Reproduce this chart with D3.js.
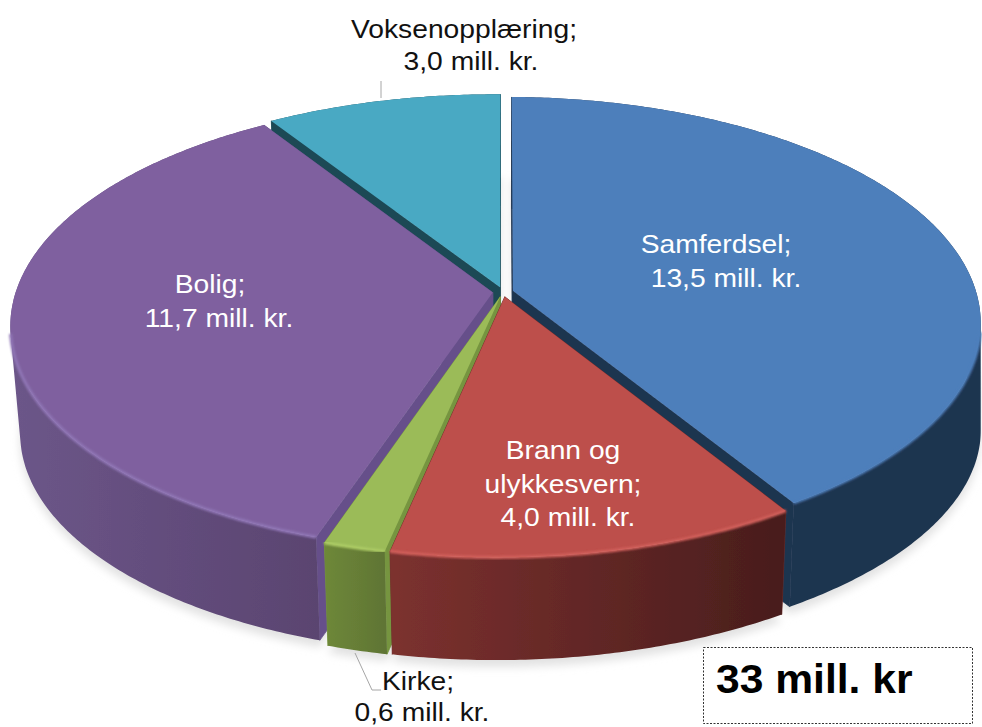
<!DOCTYPE html>
<html>
<head>
<meta charset="utf-8">
<script src="https://cdn.jsdelivr.net/npm/d3@7"></script>
<style>
  html, body { margin: 0; padding: 0; background: #fff; }
  svg { display: block; }
  text { font-family: "Liberation Sans", Arial, sans-serif; }
</style>
</head>
<body>
<div id="chart"></div>
<script>
const categories = ['Samferdsel', 'Brann og ulykkesvern', 'Kirke', 'Bolig', 'Voksenopplæring'];
const values = [13.5, 4.0, 0.6, 11.7, 3.0];
const totalLabel = '33 mill. kr';

const topColors = ['#4e7fbb', '#bd4f4b', '#9bbb59', '#7f619f', '#4aa9c3'];
const rimColors = ['#4e7fbb', '#d2605c', '#aecd66', '#9076b6', '#4aa9c3'];
const wallLeft = ['#1f3550', '#7c312f', '#6e8839', '#6c5689', '#1c4a55'];
const wallRight = ['#1f3550', '#481d1c', '#5f7434', '#5a4470', '#1c4a55'];
const sideColors = ['#1f3550', '#6f2c2a', '#76953f', '#66508a', '#1c4a55'];
// back to front, so each top face covers the walls of the slice behind it
const drawOrder = [4, 0, 3, 2, 1];

// text placement: [centre x, baseline y, text] per line, in category order
const labelLines = [
  [[716, 253, 'Samferdsel;'], [726, 287, null]],
  [[563, 459, 'Brann og'], [563, 493, 'ulykkesvern;'], [568, 526, null]],
  [[418, 690, 'Kirke;'], [422, 721, null]],
  [[210, 293, 'Bolig;'], [219, 327, null]],
  [[464, 38, 'Voksenopplæring;'], [471, 70, null]]
];
const labelFill = ['#fff', '#fff', '#111', '#fff', '#111'];

const width = 982, height = 727;
const cx = 503, cy = 292;
const rx = 470, ry = 221.8;
const tilt = 0.143;      // perspective: the back of the disc shrinks
const skew = 0.014;      // and the right side a little too
const explode = 0.022;   // slice offset as a share of the radius
const depth = 108;       // drop from top disc to bottom disc
const bottomScale = 0.98;

const fmt = v => d3.format('.1f')(v).replace('.', ',') + ' mill. kr.';

const svg = d3.select('#chart').append('svg')
  .attr('width', width)
  .attr('height', height)
  .attr('viewBox', `0 0 ${width} ${height}`);

const defs = svg.append('defs');
defs.append('filter').attr('id', 'shadow').attr('x', '-5%').attr('y', '-5%').attr('width', '110%').attr('height', '110%')
  .append('feGaussianBlur').attr('stdDeviation', 4);
defs.append('filter').attr('id', 'rim').attr('x', '-5%').attr('y', '-5%').attr('width', '110%').attr('height', '110%')
  .append('feGaussianBlur').attr('stdDeviation', 1.1);
defs.append('filter').attr('id', 'soft').attr('x', '-2%').attr('y', '-2%').attr('width', '104%').attr('height', '104%')
  .append('feGaussianBlur').attr('stdDeviation', 0.45);

categories.forEach((c, i) => {
  const g = defs.append('linearGradient').attr('id', `wall-${i}`);
  g.append('stop').attr('offset', '0%').attr('stop-color', wallLeft[i]);
  g.append('stop').attr('offset', '100%').attr('stop-color', wallRight[i]);
});

// disc coordinates (u right, v to the back) to screen
function project(u, v, lower) {
  const w = 1 + tilt * v + skew * u;
  const s = lower ? bottomScale : 1;
  // the bottom disc only pulls in on the left, its far right stays put
  const sx = !lower ? 1 : u < 0 ? bottomScale : 1 - 0.03 * (1 - Math.min(u, 1));
  return [
    cx + rx * sx * u / w,
    cy + (lower ? depth : 0) - ry * s * v / w
  ];
}

const pie = d3.pie().value(d => d).sort(null);
const slices = pie(values).map((d, i) => {
  const mid = (d.startAngle + d.endAngle) / 2;
  return {
    i,
    start: d.startAngle,
    end: d.endAngle,
    ox: explode * Math.sin(mid),
    oy: explode * Math.cos(mid)
  };
});

const line = d3.line();
const apex = (s, lower) => project(s.ox, s.oy, lower);
const edge = (s, a, lower) => project(s.ox + Math.sin(a), s.oy + Math.cos(a), lower);
function arcPoints(s, lower) {
  const n = Math.ceil((s.end - s.start) / 0.01);
  return d3.range(n + 1).map(k => edge(s, s.start + (s.end - s.start) * k / n, lower));
}

// outer wall as one path of small quads, all wound the same way so that
// the tangent part at the left and right of the disc fills in too
function wallPath(s) {
  const top = arcPoints(s, false);
  const bot = arcPoints(s, true);
  return d3.range(top.length - 1).map(k => {
    const quad = [top[k], top[k + 1], bot[k + 1], bot[k]];
    if (d3.polygonArea(quad) < 0) quad.reverse();
    return line(quad) + 'Z';
  }).join('');
}

// soft shadow under the whole pie; the raised copy greys the gap between slices
const shadowG = svg.append('g').attr('filter', 'url(#shadow)').attr('fill', '#e2e2e2');
slices.forEach(s => {
  const bottomDisc = line([apex(s, true), ...arcPoints(s, true)]) + 'Z';
  shadowG.append('path').attr('d', bottomDisc).attr('transform', 'translate(0,7)');
  shadowG.append('path').attr('d', bottomDisc).attr('transform', 'translate(0,-29)');
});

const pieG = svg.append('g').attr('filter', 'url(#soft)');
drawOrder.forEach(idx => {
  const s = slices[idx];
  const g = pieG.append('g');
  [s.start, s.end].forEach(a => {
    g.append('path')
      .attr('d', line([apex(s, false), edge(s, a, false), edge(s, a, true), apex(s, true)]) + 'Z')
      .attr('fill', sideColors[idx])
      .attr('stroke', sideColors[idx])
      .attr('stroke-width', 0.8);
  });
  g.append('path')
    .attr('d', wallPath(s))
    .attr('fill', `url(#wall-${idx})`);
  g.append('path')
    .attr('d', line([apex(s, false), ...arcPoints(s, false)]) + 'Z')
    .attr('fill', topColors[idx]);
  // bevel highlight along the visible front of the rim
  const front = arcPoints(s, false).filter(p => p[1] > cy + 40);
  if (front.length > 1) {
    g.append('path')
      .attr('d', line(front))
      .attr('fill', 'none')
      .attr('stroke', rimColors[idx])
      .attr('stroke-width', 3)
      .attr('filter', 'url(#rim)');
  }
});

// leader lines
const leader = d3.line();
const leaders = [
  [[381, 81], [381, 98]],
  [[355, 653], [372, 690], [381, 690]]
];
svg.append('g').selectAll('path').data(leaders).enter().append('path')
  .attr('d', d => leader(d))
  .attr('fill', 'none')
  .attr('stroke', '#a6a6a6')
  .attr('stroke-width', 1);

// labels, drawn a bit wide like the stretched original
const labels = svg.append('g').attr('font-size', 25).attr('text-anchor', 'middle');
labelLines.forEach((lines, i) => {
  lines.forEach(([x, y, t]) => {
    labels.append('text')
      .attr('transform', `translate(${x},${y}) scale(1.13,1)`)
      .attr('fill', labelFill[i])
      .text(t === null ? fmt(values[i]) : t);
  });
});

// total box
svg.append('rect')
  .attr('x', 703.5).attr('y', 647.5)
  .attr('width', 269).attr('height', 76)
  .attr('fill', '#fff')
  .attr('stroke', '#333')
  .attr('stroke-width', 1)
  .attr('stroke-dasharray', '2,1.5');
svg.append('text')
  .attr('transform', 'translate(716,693) scale(1.065,1)')
  .attr('font-size', 40)
  .attr('font-weight', 'bold')
  .attr('fill', '#000')
  .text(totalLabel);
</script>
</body>
</html>
